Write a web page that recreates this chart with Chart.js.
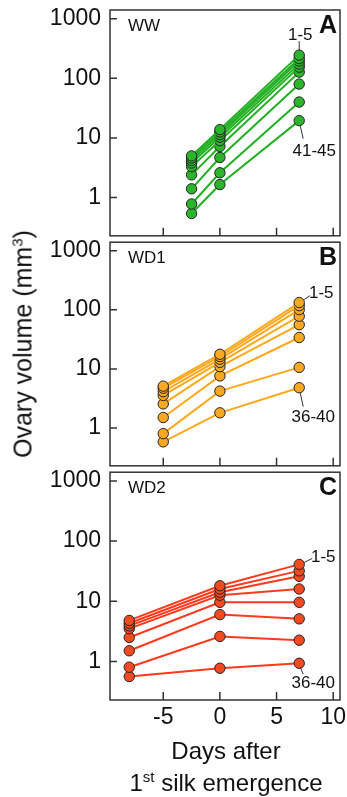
<!DOCTYPE html>
<html lang="en">

<head>
    <meta charset="UTF-8">
    <title>Ovary volume after silk emergence</title>
    <script src="https://cdn.jsdelivr.net/npm/chart.js"></script>
    <style>
        body {
            margin: 0;
            width: 347px;
            height: 797px;
            position: relative;
            overflow: hidden;
            background: #fff;
            font-family: "Liberation Sans", Arial, sans-serif;
            color: #111;
        }

        canvas {
            position: absolute;
            left: 0;
        }

        .ytitle {
            position: absolute;
            left: 23px;
            top: 344px;
            transform: translate(-50%, -50%) rotate(-90deg);
            white-space: nowrap;
            font-size: 25px;
        }

        .xtitle {
            position: absolute;
            left: 226px;
            transform: translateX(-50%);
            white-space: nowrap;
            font-size: 24px;
            line-height: 1;
        }

        sup {
            font-size: 15px;
            line-height: 0;
        }
    </style>
</head>

<body>
    <canvas id="chartA" width="347" height="242" style="top:0"></canvas>
    <canvas id="chartB" width="347" height="236" style="top:236px"></canvas>
    <canvas id="chartC" width="347" height="264" style="top:466px"></canvas>

    <div class="ytitle">Ovary volume (mm<sup>3</sup>)</div>
    <div class="xtitle" style="top:739px">Days after</div>
    <div class="xtitle" style="top:771px">1<sup>st</sup> silk emergence</div>

    <script>
        // tick positions
        const xTicks = [-5, 0, 5, 10];
        const yTicks = [1, 10, 100, 1000];

        // WW (well watered)
        const wwDays = [-2.5, 0, 7];
        const wwGroups = ['1-5', '6-10', '11-15', '16-20', '21-25', '26-30', '31-35', '36-40', '41-45'];
        const wwEarly = [5.0, 4.6, 4.2, 3.8, 3.3, 2.4, 1.4, 0.78, 0.54];
        const wwSilk = [13.8, 12.6, 11.4, 10.3, 9.0, 7.2, 4.7, 2.6, 1.65];
        const wwLate = [245, 215, 195, 173, 154, 127, 80, 40, 19.5];

        // WD1
        const wd1Days = [-5, 0, 7];
        const wd1Groups = ['1-5', '6-10', '11-15', '16-20', '21-25', '26-30', '31-35', '36-40'];
        const wd1Early = [5.1, 4.7, 4.1, 3.55, 2.55, 1.5, 0.8, 0.58];
        const wd1Silk = [17.7, 16.2, 14.6, 12.9, 10.9, 7.6, 4.2, 1.8];
        const wd1Late = [133, 118, 101, 78, 56, 34, 10.6, 4.8];

        // WD2
        const wd2Days = [-8, 0, 7];
        const wd2Groups = ['1-5', '6-10', '11-15', '16-20', '21-25', '26-30', '31-35', '36-40'];
        const wd2Early = [4.8, 4.3, 3.9, 3.5, 2.5, 1.5, 0.8, 0.56];
        const wd2Silk = [18.1, 16.0, 14.1, 12.6, 9.6, 6.0, 2.6, 0.77];
        const wd2Late = [41, 32, 26, 16, 9.6, 5.1, 2.25, 0.93];

        Chart.defaults.font.family = '"Liberation Sans", Arial, sans-serif';
        Chart.defaults.color = '#111';

        // frame, inward ticks, panel tags and group labels
        const framePlugin = {
            id: 'frame',
            afterDraw(chart, args, o) {
                const { ctx, chartArea: a, scales: { x, y } } = chart;
                ctx.save();
                ctx.strokeStyle = '#333';
                ctx.lineWidth = 1.5;
                ctx.strokeRect(a.left, a.top, a.right - a.left, a.bottom - a.top);
                ctx.beginPath();
                yTicks.forEach(v => {
                    const py = y.getPixelForValue(v);
                    ctx.moveTo(a.left, py);
                    ctx.lineTo(a.left + 7, py);
                });
                xTicks.forEach(v => {
                    const px = x.getPixelForValue(v);
                    ctx.moveTo(px, a.bottom);
                    ctx.lineTo(px, a.bottom - 8);
                });
                ctx.stroke();

                ctx.fillStyle = '#111';
                ctx.textBaseline = 'middle';
                ctx.textAlign = 'left';
                ctx.font = '17px "Liberation Sans", Arial, sans-serif';
                ctx.fillText(o.tag, a.left + 18, a.top + 16);
                ctx.textAlign = 'right';
                ctx.font = 'bold 25px "Liberation Sans", Arial, sans-serif';
                ctx.fillText(o.letter, a.right - 3, a.top + 16);

                // group labels next to the last day
                ctx.font = '17px "Liberation Sans", Arial, sans-serif';
                ctx.textAlign = 'center';
                ctx.lineWidth = 1;
                o.notes.forEach(n => {
                    const px = x.getPixelForValue(n.x);
                    const py = y.getPixelForValue(n.y);
                    ctx.beginPath();
                    ctx.moveTo(px + n.from[0], py + n.from[1]);
                    ctx.lineTo(px + n.to[0], py + n.to[1]);
                    ctx.stroke();
                    ctx.fillText(n.text, px + n.dx, py + n.dy);
                });
                ctx.restore();
            }
        };

        function makePanel(id, days, groups, early, silk, late, line, fill, tag, letter, notes, last) {
            const datasets = groups.map((g, i) => ({
                label: g,
                data: [early[i], silk[i], late[i]].map((v, j) => ({ x: days[j], y: v })),
                showLine: true,
                borderColor: line,
                borderWidth: 2,
                pointBackgroundColor: fill,
                pointBorderColor: '#222',
                pointBorderWidth: 1,
                pointRadius: 5.2
            }));

            return new Chart(document.getElementById(id), {
                type: 'scatter',
                data: { datasets: datasets },
                options: {
                    responsive: false,
                    animation: false,
                    layout: {
                        padding: { top: id === 'chartA' ? 10 : 3, right: 7, bottom: last ? 0 : 3, left: 0 }
                    },
                    plugins: {
                        legend: { display: false },
                        tooltip: { enabled: false },
                        frame: { tag: tag, letter: letter, notes: notes }
                    },
                    scales: {
                        x: {
                            type: 'linear',
                            min: -9.7,
                            max: 10.6,
                            grid: { display: false, tickLength: 0 },
                            border: { display: false },
                            afterBuildTicks: s => { s.ticks = xTicks.map(v => ({ value: v })); },
                            afterFit: s => {
                                s.height = last ? 30 : 0;
                                s.paddingLeft = 0;
                                s.paddingRight = 0;
                            },
                            ticks: {
                                display: last,
                                padding: 4,
                                maxRotation: 0,
                                font: { size: 23 }
                            }
                        },
                        y: {
                            type: 'logarithmic',
                            min: 0.228,
                            max: 1400,
                            grid: { display: false, tickLength: 0 },
                            border: { display: false },
                            afterBuildTicks: s => { s.ticks = yTicks.map(v => ({ value: v })); },
                            afterFit: s => {
                                s.width = 110;
                                s.paddingTop = 0;
                                s.paddingBottom = 0;
                            },
                            ticks: {
                                padding: 9,
                                font: { size: 23 },
                                callback: v => String(v)
                            }
                        }
                    }
                },
                plugins: [framePlugin]
            });
        }

        makePanel('chartA', wwDays, wwGroups, wwEarly, wwSilk, wwLate, '#22b022', '#2cb52c', 'WW', 'A', [
            { text: '1-5', x: 7, y: wwLate[0], dx: 1, dy: -20, from: [0, -14], to: [0, -5] },
            { text: '41-45', x: 7, y: wwLate[8], dx: 15, dy: 31, from: [1, 5], to: [4, 18] }
        ], false);

        makePanel('chartB', wd1Days, wd1Groups, wd1Early, wd1Silk, wd1Late, '#ffa81c', '#f9a823', 'WD1', 'B', [
            { text: '1-5', x: 7, y: wd1Late[0], dx: 22, dy: -9, from: [5, -3], to: [11, -7] },
            { text: '36-40', x: 7, y: wd1Late[7], dx: 14, dy: 30, from: [1, 5], to: [4, 19] }
        ], false);

        makePanel('chartC', wd2Days, wd2Groups, wd2Early, wd2Silk, wd2Late, '#ff3a1c', '#f44a22', 'WD2', 'C', [
            { text: '1-5', x: 7, y: wd2Late[0], dx: 24, dy: -7, from: [5, -2], to: [13, -6] },
            { text: '36-40', x: 7, y: wd2Late[7], dx: 14, dy: 20, from: [1, 4], to: [4, 11] }
        ], true);
    </script>
</body>

</html>
